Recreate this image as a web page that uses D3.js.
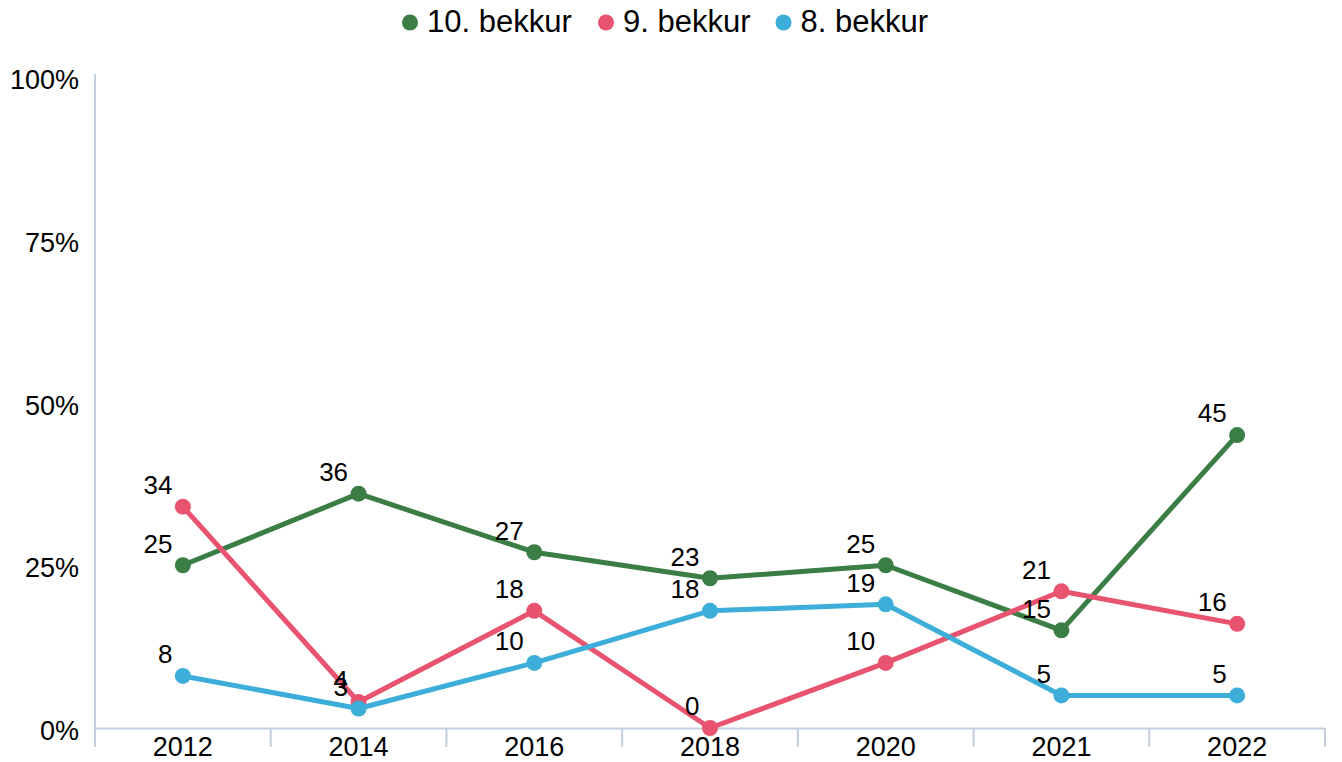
<!DOCTYPE html>
<html>
<head>
<meta charset="utf-8">
<script src="https://cdn.jsdelivr.net/npm/d3@7"></script>
<style>
  body { margin: 0; background: #fff; }
  svg { display: block; font-family: "Liberation Sans", Arial, sans-serif; }
</style>
</head>
<body>
<svg id="chart" width="1342" height="762"></svg>
<script>
// Survey years and share per grade (%)
const years = ["2012", "2014", "2016", "2018", "2020", "2021", "2022"];
const grade10 = [25, 36, 27, 23, 25, 15, 45];
const grade9 = [34, 4, 18, 0, 10, 21, 16];
const grade8 = [8, 3, 10, 18, 19, 5, 5];
const seriesNames = ["10. bekkur", "9. bekkur", "8. bekkur"];
const seriesColors = ["#3a7d45", "#e8536f", "#3daed9"];
const yTicks = [0, 25, 50, 75, 100];

const series = [grade10, grade9, grade8].map((values, i) => ({
  name: seriesNames[i], color: seriesColors[i], values
}));

const svg = d3.select("#chart");
const margin = { left: 95, right: 17, top: 77, bottom: 34 };
const width = 1342, height = 762;

const x = d3.scaleBand().domain(years).range([margin.left, width - margin.right]);
const y = d3.scaleLinear().domain([0, 100]).range([height - margin.bottom, margin.top]);

const axisColor = "#c3cfdf";

// Y axis: line only, labels to the left
svg.append("line")
  .attr("x1", margin.left).attr("x2", margin.left)
  .attr("y1", y(100) - 3).attr("y2", y(0) + 19)
  .attr("stroke", axisColor).attr("stroke-width", 2);

svg.append("g").selectAll("text").data(yTicks).join("text")
  .attr("x", 79).attr("y", d => y(d) + 12)
  .attr("text-anchor", "end")
  .attr("font-size", 27)
  .attr("fill", "#000")
  .text(d => d + "%");

// X axis baseline with category separators
const xAxis = d3.axisBottom(x).tickSize(0).tickPadding(0);
const gx = svg.append("g").attr("transform", `translate(0,${y(0)})`).call(xAxis);
gx.select(".domain").attr("stroke", axisColor).attr("stroke-width", 2);
gx.selectAll("text").attr("font-size", 27).attr("fill", "#000")
  .attr("font-family", "Liberation Sans, Arial, sans-serif")
  .attr("dy", null).attr("y", 28);

const bounds = years.map(d => x(d)).concat([x(years[years.length - 1]) + x.bandwidth()]);
svg.append("g").selectAll("line").data(bounds).join("line")
  .attr("x1", d => d).attr("x2", d => d)
  .attr("y1", y(0)).attr("y2", y(0) + 19)
  .attr("stroke", axisColor).attr("stroke-width", 2);

// Lines and markers
const cx = d => x(d) + x.bandwidth() / 2;
const line = d3.line().x((d, i) => cx(years[i])).y(d => y(d));

series.forEach(s => {
  svg.append("path")
    .attr("d", line(s.values))
    .attr("fill", "none")
    .attr("stroke", s.color)
    .attr("stroke-width", 5)
    .attr("stroke-linejoin", "round");
  svg.append("g").selectAll("circle").data(s.values).join("circle")
    .attr("cx", (d, i) => cx(years[i]))
    .attr("cy", d => y(d))
    .attr("r", 8)
    .attr("fill", s.color);
});

// Value labels, right-aligned above-left of each point
series.forEach(s => {
  svg.append("g").selectAll("text").data(s.values).join("text")
    .attr("x", (d, i) => cx(years[i]) - 10.5)
    .attr("y", d => y(d) - 22)
    .attr("dy", "0.36em")
    .attr("text-anchor", "end")
    .attr("font-size", 26)
    .attr("fill", "#000")
    .text(d => d);
});

// Legend
const legendX = [410, 606, 783.5];
const lg = svg.append("g");
series.forEach((s, i) => {
  lg.append("circle").attr("cx", legendX[i]).attr("cy", 22.5).attr("r", 8).attr("fill", s.color);
  lg.append("text").attr("x", legendX[i] + 17).attr("y", 32)
    .attr("font-size", 31).attr("fill", "#000").text(s.name);
});
</script>
</body>
</html>
